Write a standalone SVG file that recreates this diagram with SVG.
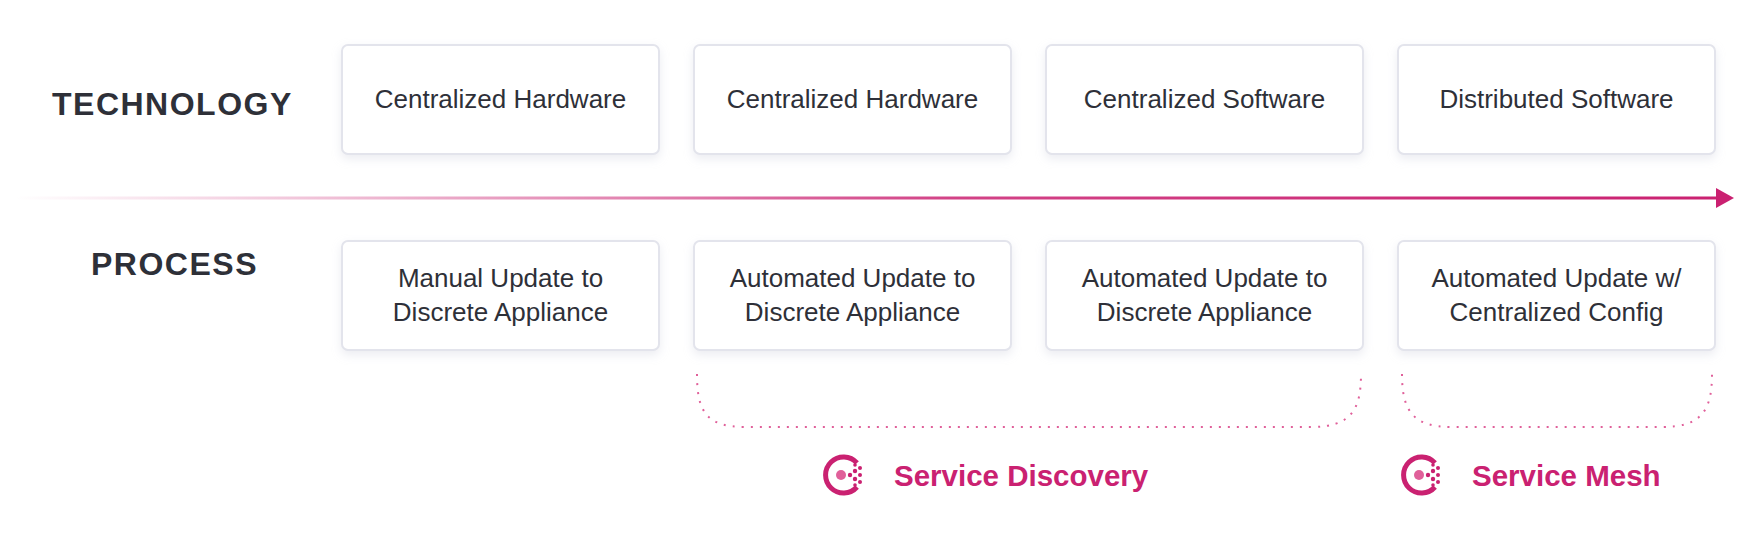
<svg xmlns="http://www.w3.org/2000/svg" width="1752" height="550" viewBox="0 0 1752 550">
<defs>
<linearGradient id="ag" x1="15" y1="0" x2="1720" y2="0" gradientUnits="userSpaceOnUse">
<stop offset="0" stop-color="#ca2171" stop-opacity="0"/>
<stop offset="0.55" stop-color="#ca2171" stop-opacity="0.85"/>
<stop offset="1" stop-color="#ca2171"/>
</linearGradient>
<filter id="sh" x="-10%" y="-10%" width="120%" height="140%"><feDropShadow dx="0" dy="4" stdDeviation="5" flood-color="#c8cad8" flood-opacity="0.35"/></filter>
<g id="icon">
<path d="M14,-12 A18,18 0 1 0 14,12" fill="none" stroke="#ca2171" stroke-width="5"/>
<circle cx="-2" cy="0" r="5" fill="#e0609a"/>
<circle cx="7" cy="0" r="2.2" fill="#ca2171"/>
<circle cx="12" cy="-4" r="2.2" fill="#ca2171"/><circle cx="12" cy="4" r="2.2" fill="#ca2171"/>
<circle cx="17" cy="-7" r="2" fill="#ca2171"/><circle cx="17" cy="0" r="2" fill="#ca2171"/><circle cx="17" cy="7" r="2" fill="#ca2171"/>
<circle cx="12" cy="-10" r="1.8" fill="#ca2171"/><circle cx="12" cy="10" r="1.8" fill="#ca2171"/>
</g>
</defs>
<style>
.box{fill:#fff;stroke:#e3e4ec;stroke-width:2;filter:url(#sh)}
.t{font-family:"Liberation Sans",Arial,sans-serif;font-size:26px;fill:#2e3038;text-anchor:middle}
.h{font-family:"Liberation Sans",Arial,sans-serif;font-size:32px;font-weight:bold;fill:#2e3038;letter-spacing:1.5px}
.sl{font-family:"Liberation Sans",Arial,sans-serif;font-size:29.5px;font-weight:bold;fill:#ca2171}
.br{fill:none;stroke:#e0609a;stroke-width:2;stroke-dasharray:2 7}
</style>
<rect width="1752" height="550" fill="#fff"/>
<text class="h" x="52" y="115">TECHNOLOGY</text>
<text class="h" x="91" y="275">PROCESS</text>
<g id="connectors">
<line x1="15" y1="198" x2="1718" y2="198" stroke="url(#ag)" stroke-width="3"/>
<path d="M1716,188 L1734,198 L1716,208 Z" fill="#ca2171"/>
<path class="br" d="M697,374 C697,410 705,427 745,427 L1311,427 C1351,427 1361,410 1361,374"/>
<path class="br" d="M1402,374 C1402,410 1412,427 1452,427 L1662,427 C1702,427 1712,410 1712,374"/>
</g>
<g id="t1"><rect class="box" x="342" y="45" width="317" height="109" rx="6"/><text class="t" x="500.5" y="108">Centralized Hardware</text></g>
<g id="t2"><rect class="box" x="694" y="45" width="317" height="109" rx="6"/><text class="t" x="852.5" y="108">Centralized Hardware</text></g>
<g id="t3"><rect class="box" x="1046" y="45" width="317" height="109" rx="6"/><text class="t" x="1204.5" y="108">Centralized Software</text></g>
<g id="t4"><rect class="box" x="1398" y="45" width="317" height="109" rx="6"/><text class="t" x="1556.5" y="108">Distributed Software</text></g>
<g id="p1"><rect class="box" x="342" y="241" width="317" height="109" rx="6"/><text class="t" x="500.5" y="287">Manual Update to</text><text class="t" x="500.5" y="321">Discrete Appliance</text></g>
<g id="p2"><rect class="box" x="694" y="241" width="317" height="109" rx="6"/><text class="t" x="852.5" y="287">Automated Update to</text><text class="t" x="852.5" y="321">Discrete Appliance</text></g>
<g id="p3"><rect class="box" x="1046" y="241" width="317" height="109" rx="6"/><text class="t" x="1204.5" y="287">Automated Update to</text><text class="t" x="1204.5" y="321">Discrete Appliance</text></g>
<g id="p4"><rect class="box" x="1398" y="241" width="317" height="109" rx="6"/><text class="t" x="1556.5" y="287">Automated Update w/</text><text class="t" x="1556.5" y="321">Centralized Config</text></g>
<g id="sd"><use href="#icon" x="843" y="475"/><text class="sl" x="894" y="486">Service Discovery</text></g>
<g id="sm"><use href="#icon" x="1421" y="475"/><text class="sl" x="1472" y="486">Service Mesh</text></g>
</svg>
